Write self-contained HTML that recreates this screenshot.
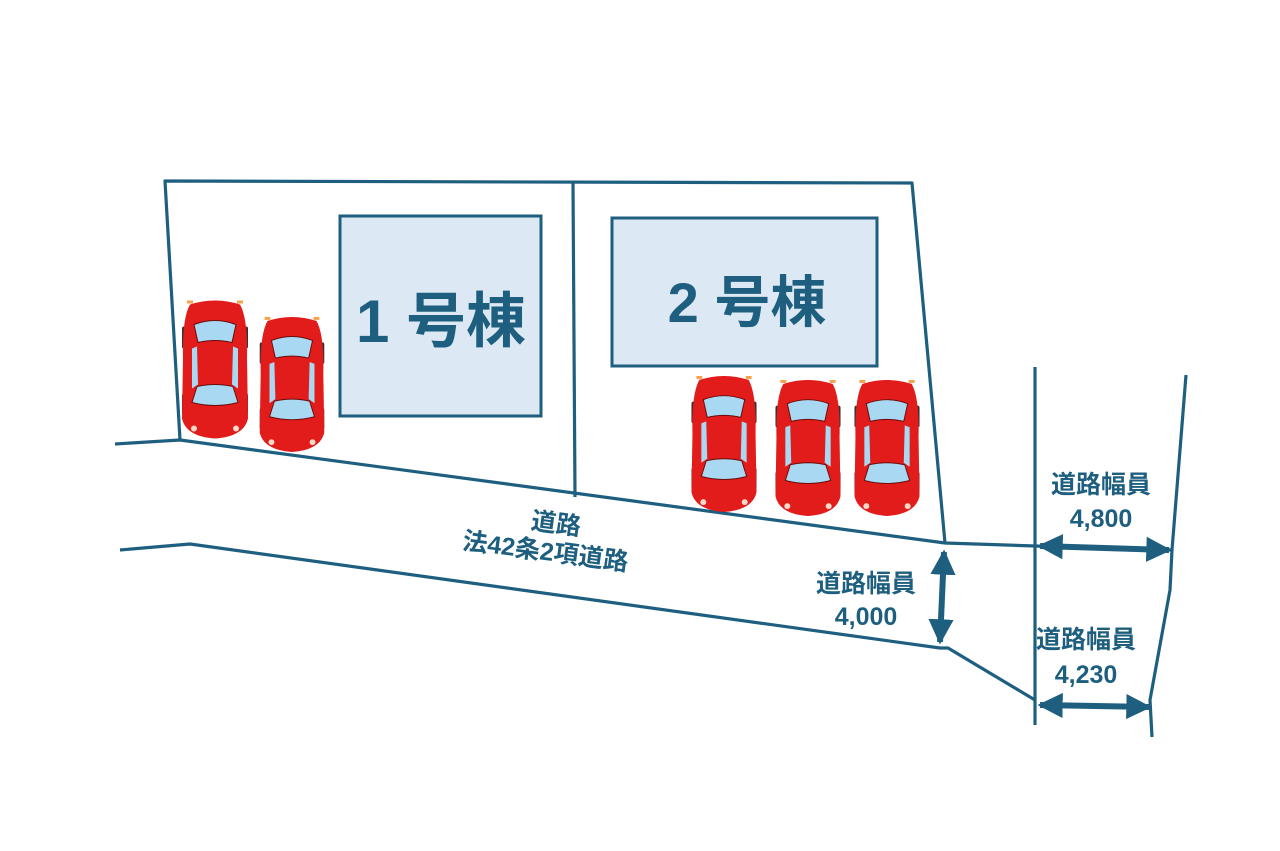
<!DOCTYPE html>
<html><head><meta charset="utf-8"><style>
html,body{margin:0;padding:0;background:#fff;width:1280px;height:851px;overflow:hidden}
svg{display:block}
text{font-family:"Liberation Sans","Noto Sans CJK JP",sans-serif;fill:#1e5f80;font-weight:bold}
</style></head><body>
<svg width="1280" height="851" viewBox="0 0 1280 851" xmlns="http://www.w3.org/2000/svg">
<defs>
<marker id="ah" viewBox="0 0 10 10" refX="9" refY="5" markerWidth="4.2" markerHeight="4.2" orient="auto-start-reverse"><path d="M0,0 L10,5 L0,10 z" fill="#1e5f80"/></marker>
<symbol id="car" viewBox="0 0 66 140">
<rect x="0" y="28" width="4" height="22" rx="2" fill="#333"/><rect x="62" y="28" width="4" height="22" rx="2" fill="#333"/>
<rect x="0" y="95" width="4" height="22" rx="2" fill="#333"/><rect x="62" y="95" width="4" height="22" rx="2" fill="#333"/>
<path d="M8,6 Q33,-2 58,6 Q66,20 65,60 L66,120 Q62,138 33,140 Q4,138 0,120 L1,60 Q0,20 8,6 Z" fill="#e21b1b"/>
<path d="M12,26 Q33,18 54,26 L50,44 Q33,40 16,44 Z" fill="#a9d8f2" stroke="#6b0d0d" stroke-width="1"/>
<path d="M10,50 L15,48 L16,86 L10,90 Z" fill="#a9d8f2"/><path d="M56,50 L51,48 L50,86 L56,90 Z" fill="#a9d8f2"/>
<path d="M15,88 Q33,84 51,88 L56,104 Q33,110 10,104 Z" fill="#a9d8f2" stroke="#6b0d0d" stroke-width="1"/>
<circle cx="12" cy="130" r="3" fill="#ffd8c8"/><circle cx="54" cy="130" r="3" fill="#ffd8c8"/>
<rect x="5" y="2" width="6" height="3" fill="#f6a24a"/><rect x="55" y="2" width="6" height="3" fill="#f6a24a"/>
</symbol>
</defs>
<g fill="none" stroke="#1e5f80" stroke-width="3.2" stroke-linejoin="round">
<polyline points="180,440 165,181 912,183 945,543"/>
<line x1="573" y1="183" x2="575" y2="497"/>
<polyline points="115,444 180,440 945,543 1035,546 1172,550"/>
<polyline points="120,550 190,544 940,648 948,648 1035,700"/>
<line x1="1035" y1="367" x2="1035" y2="725"/>
<polyline points="1186,375 1172,550 1170,590 1150,700 1152,737"/>
</g>
<g stroke="#1e5f80" stroke-width="6" marker-start="url(#ah)" marker-end="url(#ah)">
<line x1="944" y1="552" x2="940" y2="642"/>
<line x1="1040" y1="546" x2="1169" y2="550"/>
<line x1="1040" y1="705" x2="1149" y2="707"/>
</g>
<rect x="340" y="216" width="201" height="200" fill="#dce8f3" stroke="#1e5f80" stroke-width="3"/>
<rect x="612" y="218" width="265" height="148" fill="#dce8f3" stroke="#1e5f80" stroke-width="3"/>
<text x="441" y="342" font-size="60" text-anchor="middle">1 号棟</text>
<text x="747" y="322" font-size="56" text-anchor="middle">2 号棟</text>
<use href="#car" x="182" y="297" width="66" height="143"/>
<use href="#car" x="258" y="315" width="68" height="137"/>
<use href="#car" x="690" y="374" width="68" height="138"/>
<use href="#car" x="774" y="378" width="68" height="138"/>
<use href="#car" x="853" y="378" width="68" height="138"/>
<g transform="rotate(7.5 545 555)">
<text x="552" y="531" font-size="25" text-anchor="middle">道路</text>
<text x="545" y="560" font-size="25" text-anchor="middle">法42条2項道路</text>
</g>
<text x="866" y="592" font-size="25" text-anchor="middle">道路幅員</text>
<text x="866" y="625" font-size="25" text-anchor="middle">4,000</text>
<text x="1101" y="493" font-size="25" text-anchor="middle">道路幅員</text>
<text x="1101" y="527" font-size="25" text-anchor="middle">4,800</text>
<text x="1086" y="648" font-size="25" text-anchor="middle">道路幅員</text>
<text x="1086" y="683" font-size="25" text-anchor="middle">4,230</text>
</svg>
</body></html>
